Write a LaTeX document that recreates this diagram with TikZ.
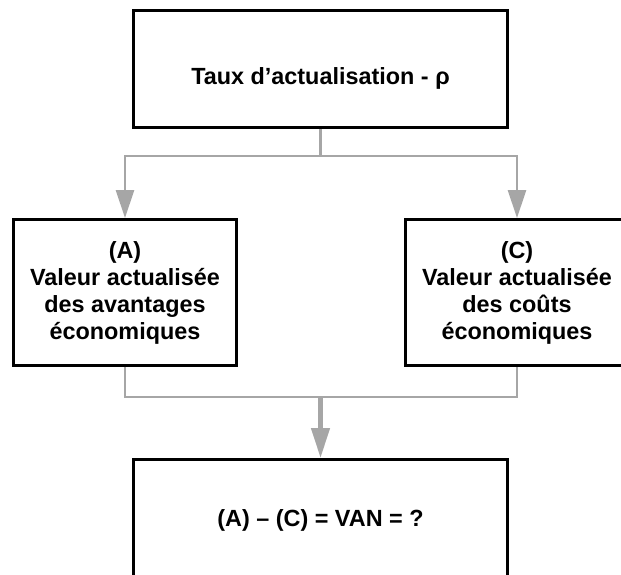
\documentclass[tikz,border=0pt]{standalone}
\usepackage{fontspec}
\setmainfont{Liberation Sans}
\usetikzlibrary{arrows.meta}
\definecolor{grislien}{RGB}{166,166,166}
\tikzset{
  boite/.style={draw=black, line width=3pt, fill=white, align=center, inner sep=0pt,
    font=\bfseries\fontsize{23.4}{27}\selectfont},
  lien/.style={draw=grislien, line width=2.8pt},
  fleche/.style={-{Triangle[length=28pt,width=18pt]}}
}
\begin{document}
\begin{tikzpicture}[x=1pt,y=-1pt]
    \useasboundingbox (0,0) rectangle (621,574);
    \clip (0,0) rectangle (621,574);

    \node[boite, minimum width=374pt, minimum height=117pt, text height=31pt, text depth=0pt] (taux) at (320.5,69) {Taux d’actualisation - ρ};
    \node[boite, minimum width=223pt, minimum height=146pt] (avant) at (125,292.5) {(A)\\Valeur actualisée\\des avantages\\économiques};
    \node[boite, minimum width=223pt, minimum height=146pt] (couts) at (517,292.5) {(C)\\Valeur actualisée\\des coûts\\économiques};
    \node[boite, minimum width=374pt, minimum height=117pt, text height=16.8pt, text depth=0pt] (van) at (320.5,518) {(A) – (C) = VAN = ?};

    \coordinate (split) at (320.5,156);
    \coordinate (join) at (320.5,397);

    \draw[lien] (taux.south) -- (split);
    \draw[lien, fleche] (split) -| (avant.north);
    \draw[lien, fleche] (split) -| (couts.north);
    \draw[lien] (avant.south) |- (join) -| (couts.south);
    \draw[lien, line width=4.5pt, -{Triangle[length=30pt,width=18pt]}] (join) -- (van.north);
\end{tikzpicture}
\end{document}
